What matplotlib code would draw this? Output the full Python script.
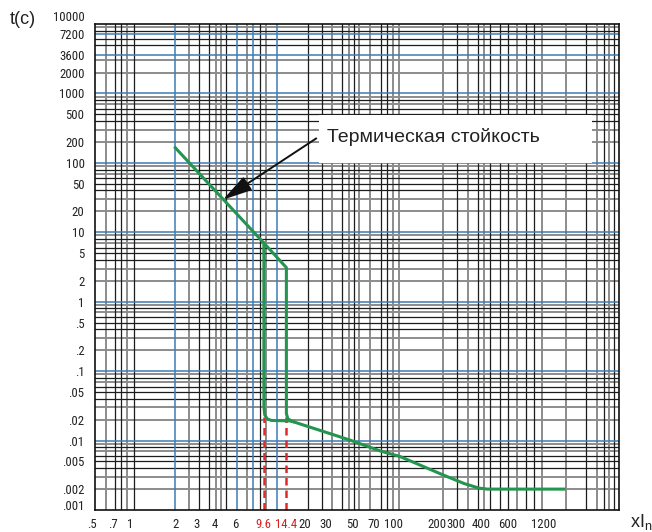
import os
import numpy as np
import matplotlib
matplotlib.use('Agg')
import matplotlib.pyplot as plt
from matplotlib import font_manager as fm
from matplotlib.ticker import FixedLocator, FixedFormatter, NullLocator
from matplotlib.patches import Rectangle
import warnings
warnings.filterwarnings('ignore')

# ---------------- data ----------------
X_TICKS = [0.7, 1, 2, 3, 4, 6, 9.6, 14.4, 20, 30, 50, 70, 100, 200, 300, 400, 600, 1200]
X_TICK_LABELS = ['.7', '1', '2', '3', '4', '6', '9.6', '14.4', '20', '30', '50', '70',
                 '100', '200', '300', '400', '600', '1200']
X_EDGE_TICK = 0.5
X_EDGE_LABEL = '.5'
X_RED_LABELS = ['9.6', '14.4']
Y_TICKS = [10000, 7200, 3600, 2000, 1000, 500, 200, 100, 50, 20, 10, 5, 2, 1,
           0.5, 0.2, 0.1, 0.05, 0.02, 0.01, 0.005, 0.002, 0.001]
Y_TICK_LABELS = ['10000', '7200', '3600', '2000', '1000', '500', '200', '100', '50', '20', '10',
                 '5', '2', '1', '.5', '.2', '.1', '.05', '.02', '.01', '.005', '.002', '.001']

# outer characteristic (14.4 In release)
OUTER_I = [2, 9.6, 14.4, 14.4, 14.8, 16.3, 47, 78, 110, 228, 330, 390, 440, 1670]
OUTER_T = [165, 7.0, 3.1, 0.0245, 0.0205, 0.0187, 0.0102, 0.0071, 0.0059, 0.0032,
           0.0024, 0.00207, 0.002, 0.002]
# inner characteristic (9.6 In release)
INNER_I = [9.6, 9.6, 9.75, 10.2, 11.0, 15.3, 16.3]
INNER_T = [7.0, 0.031, 0.0235, 0.0205, 0.0195, 0.0192, 0.0187]
MARK_I = [9.6, 14.4]
MARK_T_TOP = 0.022

# grid of the printed chart paper
V_BLACK = [0.73, 0.83, 1.06, 3.15, 3.64, 5.0, 8.97, 21.6, 27.7, 40.4, 51, 79, 87.7,
           302, 388, 461, 538, 609, 847, 993, 2390, 3240, 3820]
V_GRAY = [0.62, 0.944, 2.6, 4.1, 4.54, 7.3, 9.9, 33.4, 46.3, 55.3, 65.6, 98.8, 109,
          226, 344, 420, 714, 1161, 1718, 2870, 3537]
V_BLUE = [2.0, 6.2, 8.07, 12.2]
H_BLUE = [7200, 3600, 1000, 100, 10, 1, 0.1, 0.01]

# ---------------- x scale of the printed paper (non uniform log) ----------------
AX_VAL = [0.1, 0.5, 0.7, 1, 2, 3, 4, 6, 9.6, 14.4, 20, 30, 50, 70, 100, 200, 300, 400,
          600, 1200, 10000]
AX_POS = [1.0, 92, 113.5, 130, 175.5, 196.5, 215, 235.5, 264, 286.5, 304.5, 326, 353,
          374, 394, 437, 456, 481, 507.5, 544, 672]
LOGV = np.log10(AX_VAL)


def fwd(x):
    x = np.asarray(x, dtype=float)
    return np.interp(np.log10(np.clip(x, 1e-9, None)), LOGV, AX_POS)


def inv(p):
    p = np.asarray(p, dtype=float)
    return 10 ** np.interp(p, AX_POS, LOGV)


def pick_narrow():
    cands = [('Liberation Sans Narrow', 'normal'), ('Arial Narrow', 'normal'),
             ('Roboto Condensed', 'normal'), ('Open Sans Condensed', 'normal'),
             ('Open Sans', 'condensed'), ('DejaVu Sans', 'condensed'),
             ('Noto Sans', 'condensed'), ('Liberation Sans', 'condensed')]
    for fam, st in cands:
        try:
            path = fm.findfont(fm.FontProperties(family=fam, stretch=st),
                               fallback_to_default=False)
        except Exception:
            continue
        name = os.path.basename(path).lower()
        if 'narrow' in name or 'condensed' in name or 'cond' in name:
            return path
    return None


NARROW = pick_narrow()


def tick_fp(size):
    if NARROW:
        return fm.FontProperties(fname=NARROW, size=size)
    return fm.FontProperties(family='Liberation Sans', size=size * 0.84)


# ---------------- figure ----------------
W, H = 652, 532
fig = plt.figure(figsize=(W / 100, H / 100), dpi=100)
ax = fig.add_axes([95 / W, (H - 510) / H, 524 / W, 486 / H])
ax.set_xscale('function', functions=(fwd, inv))
ax.set_yscale('log')
ax.set_xlim(0.526, 4150)
ax.set_ylim(0.001, 10000)

BLACK = '#1c1c1c'
GRAY = '#8c8c8c'
BLUE = '#3f7cb6'

# horizontal grid
pattern = {9: GRAY, 8: BLACK, 7: GRAY, 6: BLACK, 5: BLACK, 4: BLACK, 3: GRAY, 2: GRAY}
for k in range(-3, 4):
    for n in range(2, 10):
        v = n * 10.0 ** k
        if k == 3 and n in (4, 7):
            continue
        c = pattern[n]
        ax.axhline(v, color=c, lw=1.4 if c == GRAY else 0.9, zorder=1 if c == GRAY else 2)
for v in H_BLUE:
    ax.axhline(v, color=BLUE, lw=1.1, zorder=2.5)

# vertical grid
for v in V_GRAY:
    ax.axvline(v, color=GRAY, lw=1.4, zorder=1)
for v in V_BLACK:
    ax.axvline(v, color=BLACK, lw=0.9, zorder=2)
for v in V_BLUE:
    ax.axvline(v, color=BLUE, lw=1.1, zorder=2.5)

# white label box
ax.add_patch(Rectangle((26.4, 100), 2650 - 26.4, 490 - 100, facecolor='white',
                       edgecolor='none', zorder=3))
ax.text(30.4, 238, 'Термическая стойкость', fontsize=14, family='Liberation Sans',
        color='#222222', va='center', ha='left', zorder=6)
ax.annotate('', xy=(4.7, 29.5), xytext=(25, 225),
            arrowprops=dict(arrowstyle='-|>,head_length=1.2,head_width=0.32',
                            mutation_scale=15, color='#111111', lw=1.4,
                            shrinkA=0, shrinkB=0), zorder=7)

# red dashed markers
for xi in MARK_I:
    ax.plot([xi, xi], [0.001, MARK_T_TOP], color='#e02a2a', lw=1.8,
            linestyle=(0, (3, 2)), zorder=4, clip_on=False)

# characteristic
GREEN = '#23954f'
ax.plot(OUTER_I, OUTER_T, color=GREEN, lw=2.2, zorder=5, solid_joinstyle='round')
ax.plot(INNER_I, INNER_T, color=GREEN, lw=2.2, zorder=5, solid_joinstyle='round')

# ticks
XFS = 9.2
YFS = 9.2
ax.xaxis.set_major_locator(FixedLocator(X_TICKS))
ax.xaxis.set_major_formatter(FixedFormatter(X_TICK_LABELS))
ax.xaxis.set_minor_locator(NullLocator())
ax.yaxis.set_major_locator(FixedLocator(Y_TICKS))
ax.yaxis.set_major_formatter(FixedFormatter(Y_TICK_LABELS))
ax.yaxis.set_minor_locator(NullLocator())
ax.tick_params(axis='both', which='both', length=0)
ax.tick_params(axis='x', pad=5.5)
ax.tick_params(axis='y', pad=7.5)
for lab in ax.get_xticklabels():
    lab.set_fontproperties(tick_fp(XFS))
    lab.set_color('#222222')
    if lab.get_text() in X_RED_LABELS:
        lab.set_color('#d62020')
for lab in ax.get_yticklabels():
    lab.set_fontproperties(tick_fp(YFS))
    lab.set_color('#222222')
ylabs = ax.get_yticklabels()
ylabs[0].set_va('bottom')
ylabs[-1].set_va('baseline')

# the ".5" label lies just left of the plotted range
ax.annotate(X_EDGE_LABEL, xy=(X_EDGE_TICK, 0), xycoords=ax.get_xaxis_transform(),
            xytext=(0, -5.5), textcoords='offset points', ha='center', va='top',
            color='#222222', fontproperties=tick_fp(XFS), annotation_clip=False)

for s in ax.spines.values():
    s.set_color('#111111')
    s.set_linewidth(1.2)
    s.set_zorder(8)

fig.text(10 / W, 1 - 20 / H, 't(c)', fontsize=13, family='Liberation Sans',
         color='#222222', ha='left', va='center')
fig.text(630 / W, 5 / H, r'xI$_{\mathregular{n}}$', fontsize=13, family='Liberation Sans',
         color='#222222', ha='left', va='baseline')

fig.savefig('out.png', dpi=100)
